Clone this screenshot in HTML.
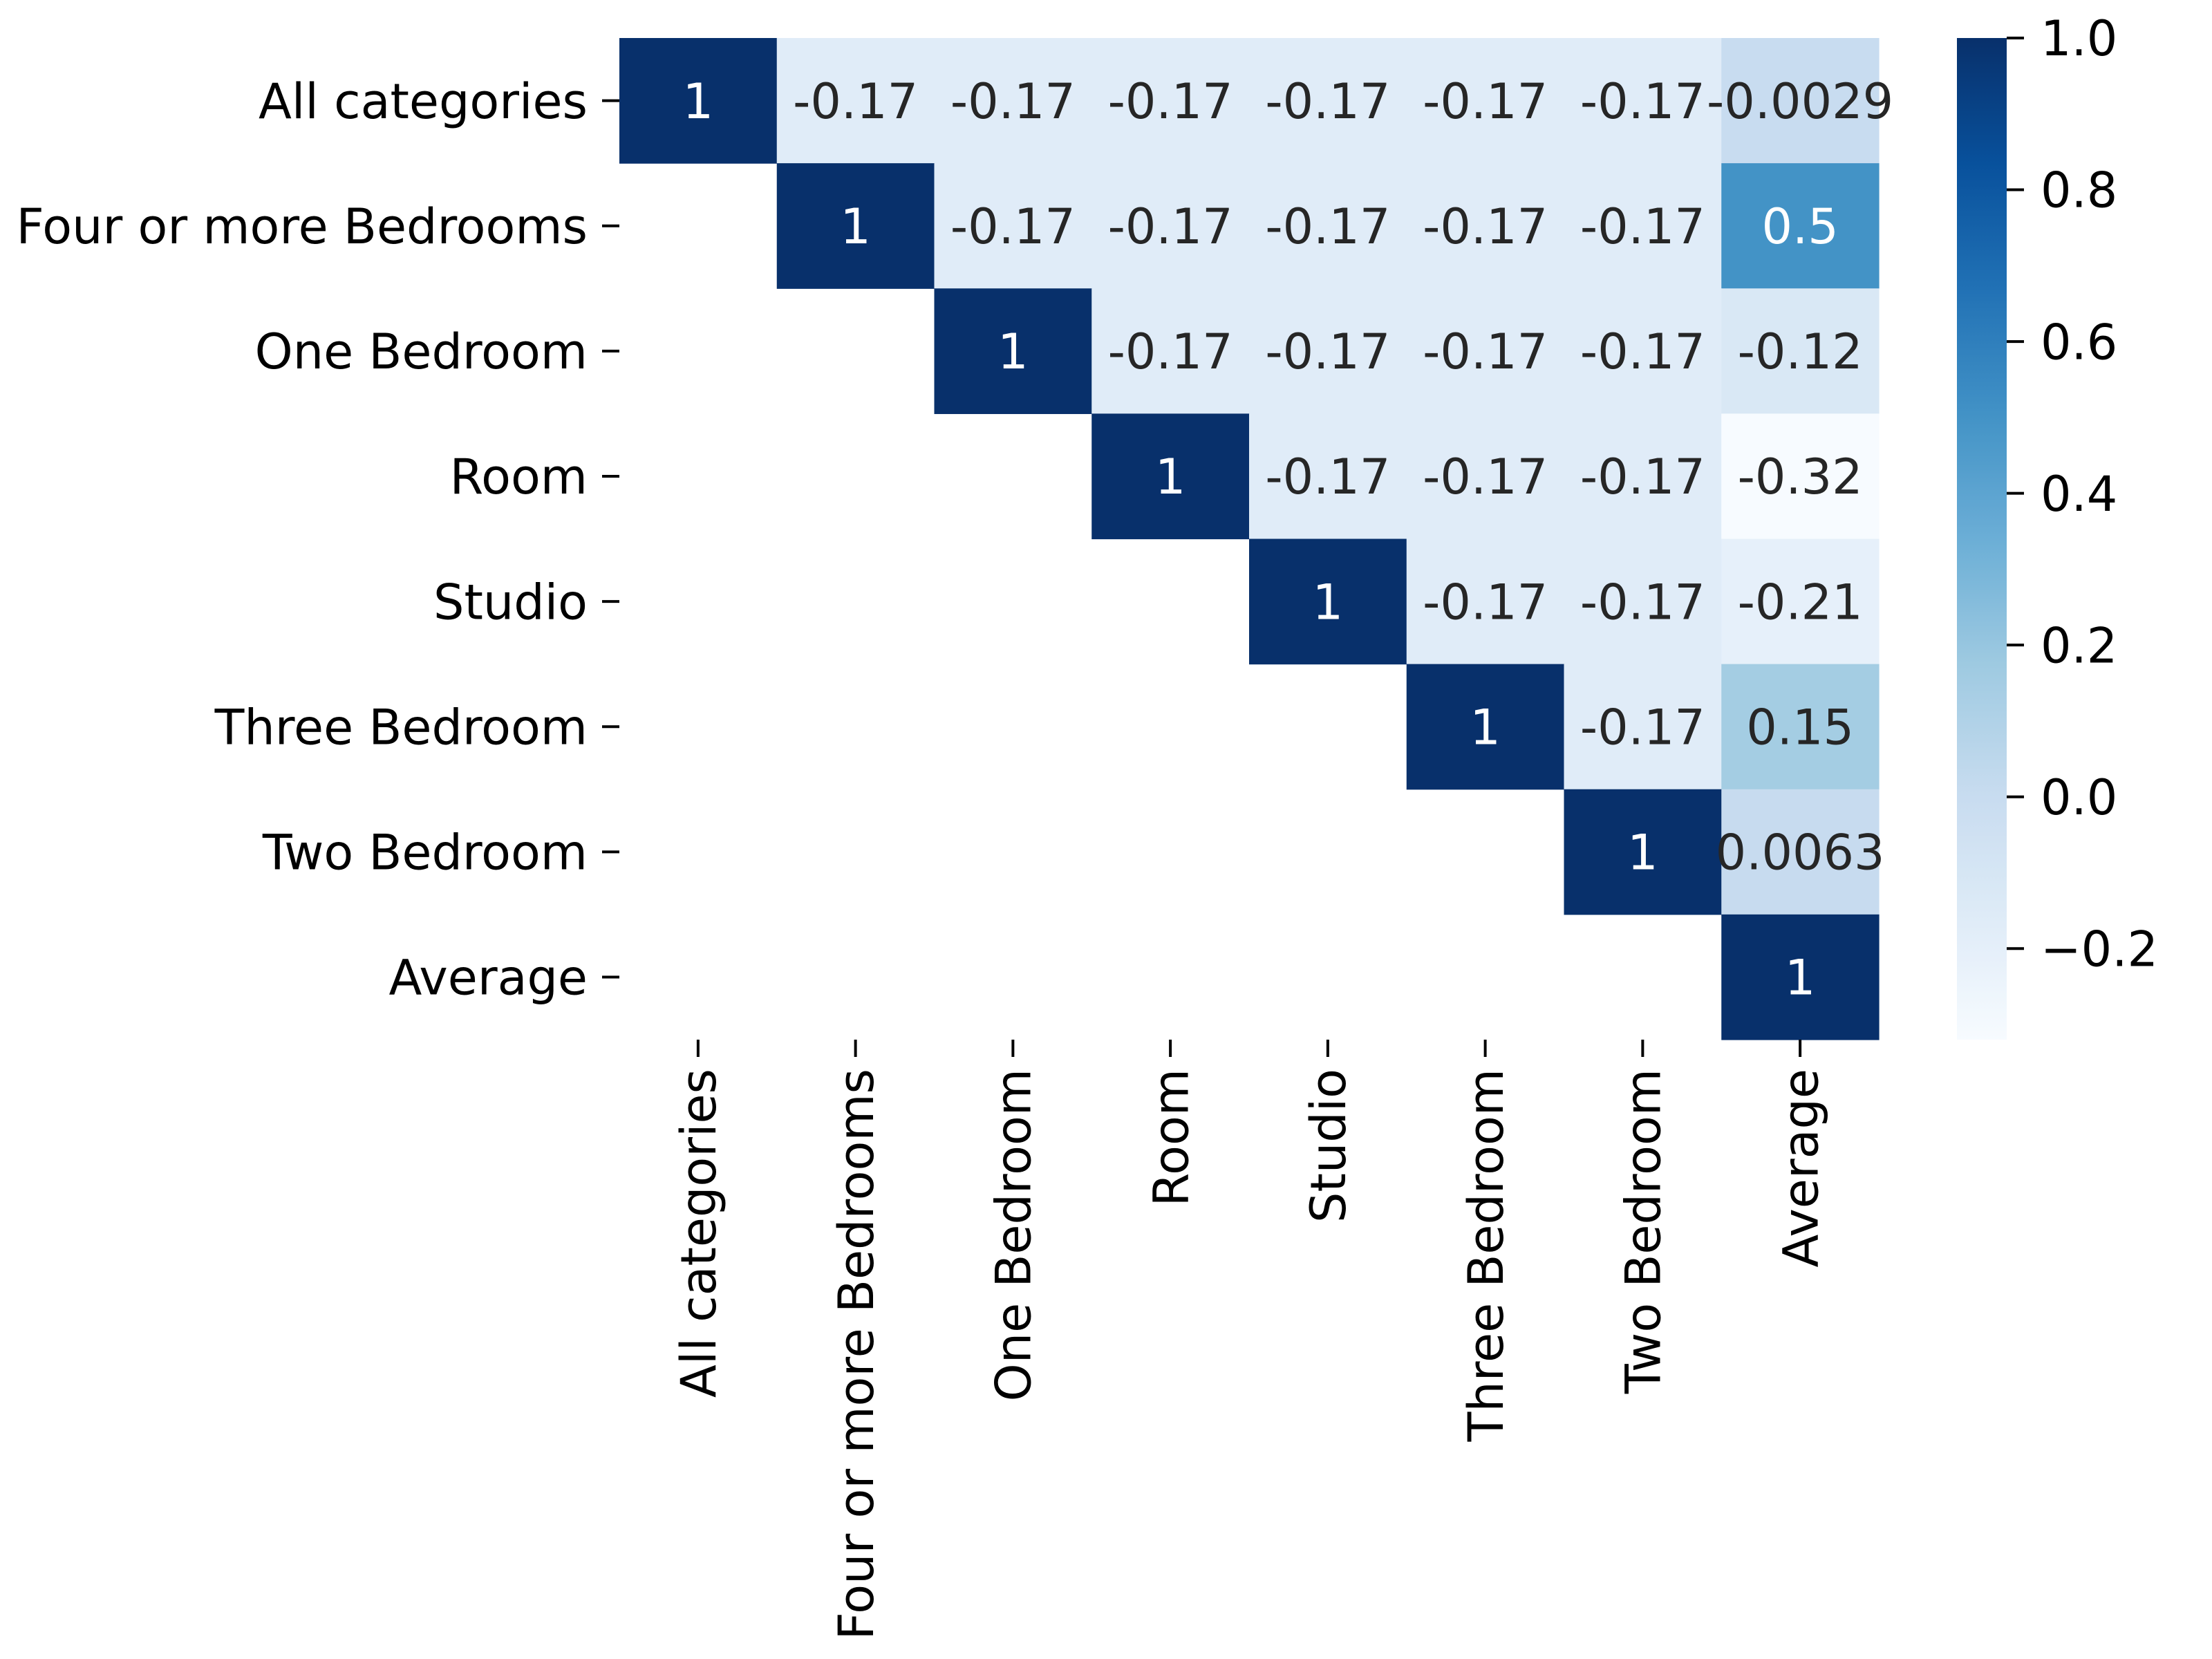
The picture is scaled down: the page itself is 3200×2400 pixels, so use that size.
<!DOCTYPE html>
<html><head><meta charset="utf-8">
<style>
html,body{margin:0;padding:0;background:#fff;}
svg{display:block;font-family:"DejaVu Sans","Liberation Sans",sans-serif;}
</style></head>
<body>
<svg id="chart" width="3200" height="2400" viewBox="0 0 3200 2400" xmlns="http://www.w3.org/2000/svg">
<defs><linearGradient id="cbgrad" x1="0" y1="1" x2="0" y2="0"></linearGradient></defs>
<g id="cells"></g>
<g id="ylabels"></g>
<g id="xlabels"></g>
<g id="colorbar"></g>
</svg>
<script>
const categories = ["All categories","Four or more Bedrooms","One Bedroom","Room","Studio","Three Bedroom","Two Bedroom","Average"];
const pairValue = -0.17;
const averageColumn = [-0.0029, 0.5, -0.12, -0.32, -0.21, 0.15, 0.0063, 1];
const averageLabels = ["-0.0029","0.5","-0.12","-0.32","-0.21","0.15","0.0063","1"];
const colorbarTicks = [-0.2, 0.0, 0.2, 0.4, 0.6, 0.8, 1.0];
const colorbarTickLabels = ["\u22120.2","0.0","0.2","0.4","0.6","0.8","1.0"];
const vmin = -0.32, vmax = 1.0;

const NS = "http://www.w3.org/2000/svg";
const X0 = 896, X1 = 2718, Y0 = 55, Y1 = 1504;
const n = categories.length;
const cw = (X1 - X0) / n, ch = (Y1 - Y0) / n;
const FS = 70;
const xPos = j => X0 + j * cw;
const yPos = i => Y0 + i * ch;

const blues = ["#f7fbff","#deebf7","#c6dbef","#9ecae1","#6baed6","#4292c6","#2171b5","#08519c","#08306b"];
function hex2rgb(h){return [parseInt(h.slice(1,3),16),parseInt(h.slice(3,5),16),parseInt(h.slice(5,7),16)];}
function cmap(t){
  t = Math.max(0, Math.min(1, t));
  const s = t * (blues.length - 1);
  const k = Math.min(Math.floor(s), blues.length - 2);
  const f = s - k;
  const a = hex2rgb(blues[k]), b = hex2rgb(blues[k+1]);
  return a.map((v,i)=>Math.round(v + (b[i]-v)*f));
}
function lum(rgb){
  const c = rgb.map(v=>{v/=255;return v<=0.03928?v/12.92:Math.pow((v+0.055)/1.055,2.4);});
  return 0.2126*c[0]+0.7152*c[1]+0.0722*c[2];
}
function mk(tag, attrs, parent){
  const e = document.createElementNS(NS, tag);
  for (const k in attrs) e.setAttribute(k, attrs[k]);
  parent.appendChild(e);
  return e;
}
const norm = v => (v - vmin) / (vmax - vmin);

const cells = document.getElementById("cells");
for (let i = 0; i < n; i++) {
  for (let j = i; j < n; j++) {
    let v, label;
    if (j === n - 1) { v = averageColumn[i]; label = averageLabels[i]; }
    else if (j === i) { v = 1; label = "1"; }
    else { v = pairValue; label = "-0.17"; }
    const rgb = cmap(norm(v));
    const r = mk("rect", {x: xPos(j), y: yPos(i), width: cw + 0.6, height: ch + 0.6, fill: `rgb(${rgb.join(",")})`}, cells);
    
    
    const t = mk("text", {x: xPos(j) + cw/2, y: yPos(i) + ch/2 + FS*0.36, "text-anchor": "middle", "font-size": FS, fill: lum(rgb) > 0.408 ? "#262626" : "#ffffff"}, cells);
    t.textContent = label;
    
    
  }
}

const yl = document.getElementById("ylabels");
const xl = document.getElementById("xlabels");
for (let i = 0; i < n; i++) {
  const cy = yPos(i) + ch/2;
  const tk = mk("line", {x1: X0 - 25, x2: X0, y1: cy, y2: cy, stroke: "#000", "stroke-width": 4}, yl);
  
  
  const t = mk("text", {x: X0 - 46, y: cy + FS*0.36, "text-anchor": "end", "font-size": FS, fill: "#000"}, yl);
  t.textContent = categories[i];
  
  

  const cx = xPos(i) + cw/2;
  const tk2 = mk("line", {x1: cx, x2: cx, y1: Y1, y2: Y1 + 25, stroke: "#000", "stroke-width": 4}, xl);
  
  
  const t2 = mk("text", {x: 0, y: 0, "text-anchor": "end", "font-size": FS, fill: "#000",
    transform: `translate(${cx + FS*0.36},${Y1 + 42}) rotate(-90)`}, xl);
  t2.textContent = categories[i];
  
  
}

const grad = document.getElementById("cbgrad");
for (let k = 0; k <= 40; k++) {
  const t = k / 40;
  mk("stop", {offset: t, "stop-color": `rgb(${cmap(t).join(",")})`}, grad);
}
const CB0 = 2831, CB1 = 2903;
const cb = document.getElementById("colorbar");
const cbr = mk("rect", {x: CB0, y: Y0, width: CB1 - CB0, height: Y1 - Y0, fill: "url(#cbgrad)"}, cb);


const cbY = v => Y1 - norm(v) * (Y1 - Y0);
for (let k = 0; k < colorbarTicks.length; k++) {
  const y = cbY(colorbarTicks[k]);
  const tk = mk("line", {x1: CB1, x2: CB1 + 25, y1: y, y2: y, stroke: "#000", "stroke-width": 4}, cb);
  
  
  const t = mk("text", {x: 2952, y: y + FS*0.36, "font-size": FS, fill: "#000"}, cb);
  t.textContent = colorbarTickLabels[k];
  
  
}
</script>
</body></html>
